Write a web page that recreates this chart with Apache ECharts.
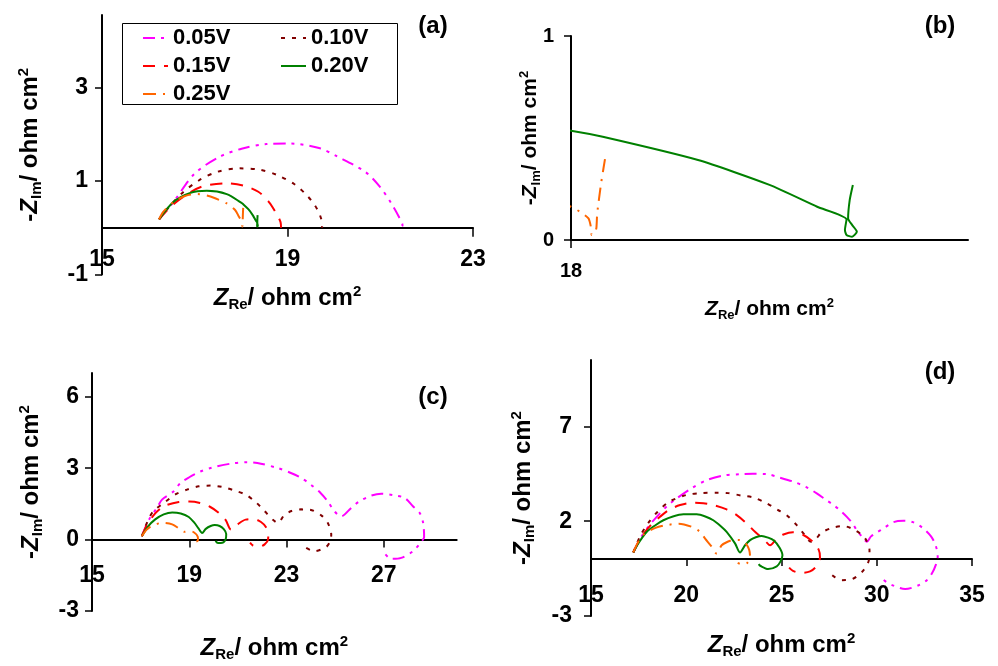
<!DOCTYPE html>
<html>
<head>
<meta charset="utf-8">
<script src="https://cdn.jsdelivr.net/npm/echarts@6/dist/echarts.min.js"></script>
<style>
  html, body { margin: 0; padding: 0; background: #fff; }
  #chart { width: 998px; height: 666px; }
</style>
</head>
<body>
<div id="chart"></div>
<script>
const FONT = 'Liberation Sans, Arial, Helvetica, sans-serif';

// series names, colours, dash patterns
const names = ['0.05V', '0.10V', '0.15V', '0.20V', '0.25V'];
const colors = ['#ff00ff', '#800000', '#ff0000', '#008000', '#ff6600'];
const dashes = [[12, 6, 3, 6, 3, 6], [4, 7], [12, 9], 'solid', [13, 7, 2, 7]];

// tick values of each panel
const xTicksA = [15, 19, 23];
const yTicksA = [-1, 1, 3];
const xTicksB = [18];
const yTicksB = [0, 1];
const xTicksC = [15, 19, 23, 27];
const yTicksC = [-3, 0, 3, 6];
const xTicksD = [15, 20, 25, 30, 35];
const yTicksD = [-3, 2, 7];

// panel (a), [Z_Re, -Z_Im]; (b) is a zoom of the 0.20V / 0.25V ends
const a005 = [[16.23, 0.18], [16.54, 0.55], [17.0, 1.16], [17.54, 1.52], [18.01, 1.69], [18.55, 1.79], [19.05, 1.8], [19.7, 1.7], [20.06, 1.53], [20.67, 1.2], [20.99, 0.88], [21.24, 0.52], [21.41, 0.22], [21.48, 0.05], [21.44, 0.0]];
const a010 = [[16.23, 0.18], [16.45, 0.45], [16.75, 0.76], [17.1, 1.02], [17.5, 1.2], [17.97, 1.27], [18.4, 1.24], [18.77, 1.13], [19.15, 0.93], [19.41, 0.7], [19.59, 0.48], [19.7, 0.27], [19.75, 0.05], [19.74, 0.0]];
const a015 = [[16.23, 0.18], [16.45, 0.42], [16.75, 0.66], [17.15, 0.88], [17.69, 0.95], [18.05, 0.9], [18.37, 0.77], [18.6, 0.55], [18.75, 0.32], [18.85, 0.12], [18.86, 0.0]];
const a020 = [[16.23, 0.18], [16.54, 0.55], [16.89, 0.74], [17.26, 0.79], [17.69, 0.72], [18.0, 0.536], [18.04, 0.506], [18.16, 0.392], [18.25, 0.27], [18.31, 0.163], [18.347, 0.101], [18.345, 0.049], [18.347, 0.025], [18.354, 0.016], [18.36, 0.041], [18.354, 0.074], [18.349, 0.106], [18.351, 0.196], [18.355, 0.27]];
const a025 = [[16.23, 0.18], [16.32, 0.34], [16.54, 0.55], [16.79, 0.68], [17.04, 0.72], [17.26, 0.69], [17.44, 0.63], [17.69, 0.52], [17.87, 0.38], [17.95, 0.24], [18.0, 0.163], [18.011, 0.139], [18.022, 0.106], [18.025, 0.065], [18.026, 0.025], [18.03, 0.035], [18.032, 0.06], [18.033, 0.13], [18.038, 0.28], [18.044, 0.425]];

// panel (c)
const c005 = [[17.05, 0.14], [17.35, 0.85], [17.67, 1.33], [17.88, 1.68], [18.36, 2.03], [18.64, 2.38], [19.0, 2.62], [19.46, 2.86], [19.88, 3.01], [20.7, 3.19], [21.39, 3.25], [21.8, 3.22], [22.63, 3.01], [23.18, 2.8], [23.6, 2.59], [24.0, 2.31], [24.4, 1.96], [24.7, 1.6], [24.97, 1.19], [25.25, 0.98], [25.66, 1.33], [26.0, 1.61], [26.49, 1.85], [26.9, 1.93], [27.38, 1.87], [27.86, 1.75], [28.2, 1.4], [28.48, 1.12], [28.62, 0.7], [28.66, 0.1], [28.55, -0.08], [28.2, -0.49], [27.72, -0.77], [27.31, -0.81], [26.97, -0.49]];
const c010 = [[17.05, 0.14], [17.3, 0.8], [17.53, 1.2], [17.97, 1.55], [18.43, 1.9], [18.91, 2.1], [19.39, 2.24], [19.88, 2.27], [20.36, 2.21], [20.84, 2.07], [21.32, 1.89], [21.74, 1.57], [22.08, 1.22], [22.43, 0.84], [22.65, 0.7], [22.9, 1.02], [23.2, 1.2], [23.6, 1.27], [23.95, 1.26], [24.43, 1.02], [24.7, 0.7], [24.84, 0.2], [24.78, -0.1], [24.63, -0.31], [24.15, -0.49], [23.73, -0.3]];
const c015 = [[17.05, 0.14], [17.25, 0.6], [17.6, 1.1], [17.95, 1.4], [18.57, 1.58], [19.0, 1.6], [19.44, 1.54], [19.85, 1.38], [20.22, 1.12], [20.5, 0.82], [20.72, 0.42], [20.98, 0.63], [21.32, 0.84], [21.67, 0.86], [21.95, 0.74], [22.15, 0.53], [22.25, 0.25], [22.24, 0.0], [22.1, -0.2], [21.9, -0.29], [21.62, -0.25], [21.5, -0.13]];
const c020 = [[17.05, 0.14], [17.3, 0.55], [17.6, 0.85], [17.95, 1.06], [18.3, 1.14], [18.65, 1.1], [18.98, 0.95], [19.2, 0.72], [19.38, 0.47], [19.53, 0.28], [19.68, 0.45], [19.88, 0.57], [20.05, 0.61], [20.25, 0.57], [20.42, 0.44], [20.52, 0.24], [20.5, 0.02], [20.36, -0.13], [20.18, -0.14], [20.08, -0.05]];
const c025 = [[17.05, 0.14], [17.25, 0.42], [17.5, 0.6], [17.9, 0.7], [18.3, 0.64], [18.6, 0.45], [18.8, 0.33], [19.0, 0.36], [19.2, 0.3], [19.35, 0.12], [19.36, -0.02], [19.28, -0.08], [19.15, -0.07]];

// panel (d)
const d005 = [[17.22, 0.35], [17.6, 1.1], [18.0, 1.7], [18.45, 2.23], [19.0, 2.8], [19.5, 3.2], [20.3, 3.75], [21.08, 4.17], [21.9, 4.4], [22.83, 4.48], [23.5, 4.5], [24.23, 4.48], [24.9, 4.3], [25.63, 4.08], [26.3, 3.8], [26.85, 3.47], [27.3, 3.15], [27.73, 2.85], [28.1, 2.55], [28.43, 2.23], [28.75, 1.85], [28.95, 1.53], [29.3, 1.09], [29.48, 0.91], [29.7, 1.2], [30.0, 1.4], [30.4, 1.65], [30.88, 1.95], [31.4, 2.02], [31.9, 1.95], [32.4, 1.65], [32.85, 1.2], [33.1, 0.7], [33.2, 0.12], [33.1, -0.3], [32.9, -0.75], [32.63, -1.11], [32.2, -1.38], [31.49, -1.58], [30.88, -1.4], [30.5, -1.2], [30.3, -1.05]];
const d010 = [[17.22, 0.35], [17.6, 1.25], [18.0, 1.9], [18.5, 2.5], [19.1, 3.02], [19.99, 3.38], [20.8, 3.48], [21.6, 3.5], [22.2, 3.48], [22.9, 3.35], [23.52, 3.25], [24.22, 2.94], [24.8, 2.6], [25.27, 2.32], [25.8, 1.79], [26.2, 1.3], [26.55, 0.91], [26.8, 1.05], [27.1, 1.4], [27.73, 1.67], [28.25, 1.74], [28.9, 1.5], [29.39, 1.09], [29.62, 0.47], [29.56, -0.15], [29.22, -0.68], [28.69, -1.06], [28.17, -1.11], [27.8, -0.95], [27.55, -0.76]];
const d015 = [[17.22, 0.35], [17.6, 1.1], [18.1, 1.75], [18.62, 2.23], [19.1, 2.6], [19.68, 2.85], [20.29, 2.97], [20.9, 2.95], [21.42, 2.85], [22.12, 2.62], [22.65, 2.32], [23.17, 1.88], [23.61, 1.44], [23.95, 1.15], [24.2, 0.9], [24.4, 0.73], [24.75, 1.09], [25.1, 1.3], [25.6, 1.42], [26.1, 1.3], [26.6, 0.95], [26.95, 0.5], [27.02, 0.1], [26.85, -0.35], [26.5, -0.65], [26.0, -0.73], [25.6, -0.62], [25.4, -0.45]];
const d020 = [[17.22, 0.35], [17.5, 0.85], [17.93, 1.44], [18.4, 1.8], [18.8, 2.05], [19.3, 2.25], [19.85, 2.36], [20.55, 2.36], [21.0, 2.25], [21.42, 2.05], [21.8, 1.75], [22.12, 1.44], [22.56, 0.83], [22.82, 0.35], [23.1, 0.75], [23.35, 1.0], [23.65, 1.15], [23.96, 1.22], [24.3, 1.13], [24.6, 0.98], [24.9, 0.6], [25.05, 0.2], [24.95, -0.12], [24.75, -0.38], [24.3, -0.52], [23.88, -0.35], [23.8, -0.27]];
const d025 = [[17.22, 0.35], [17.45, 0.85], [17.77, 1.3], [18.38, 1.65], [18.97, 1.79], [19.6, 1.87], [20.29, 1.7], [20.72, 1.44], [20.99, 1.08], [21.3, 0.7], [21.6, 0.29], [21.86, 0.73], [22.2, 0.93], [22.5, 1.01], [22.83, 1.0], [23.1, 0.85], [23.3, 0.5], [23.35, 0.1], [23.2, -0.2], [22.95, -0.28], [22.7, -0.2]];

const panelData = [
  [a005, a010, a015, a020, a025],
  [null, null, null, a020, a025],
  [c005, c010, c015, c020, c025],
  [d005, d010, d015, d020, d025]
];

const chart = echarts.init(document.getElementById('chart'));

function nameStyle(size, lh, pad) {
  const s = Math.round(size * 0.62);
  const base = { fontFamily: FONT, fontWeight: 'bold', color: '#000' };
  return {
    fontFamily: FONT,
    color: '#000',
    padding: pad || 0,
    rich: {
      t: Object.assign({ fontSize: size, lineHeight: lh }, base),
      z: Object.assign({ fontSize: size, lineHeight: lh, fontStyle: 'italic' }, base),
      sub: Object.assign({ fontSize: s, verticalAlign: 'bottom' }, base),
      sup: Object.assign({ fontSize: s, verticalAlign: 'top' }, base)
    }
  };
}

function makeAxis(opt) {
  return {
    type: 'value',
    gridIndex: opt.grid,
    min: opt.min,
    max: opt.max,
    position: opt.y ? 'left' : 'bottom',
    name: opt.y ? '{t|-}{z|Z}{sub|Im}{t|/ ohm cm}{sup|2}' : '{z|Z}{sub|Re}{t|/ ohm cm}{sup|2}',
    nameLocation: 'middle',
    nameGap: opt.nameGap,
    nameMoveOverlap: false,
    nameTextStyle: nameStyle(opt.nameSize, opt.lh, opt.namePad),
    axisLine: { onZero: !opt.y, lineStyle: { color: '#000', width: 2 } },
    axisTick: { length: opt.tickLen || 7, customValues: opt.ticks, lineStyle: { color: '#000', width: 1.5 } },
    axisLabel: {
      customValues: opt.ticks,
      color: '#000',
      fontFamily: FONT,
      fontWeight: 'bold',
      fontSize: opt.labelSize,
      margin: opt.margin
    },
    splitLine: { show: false }
  };
}

// x labels and names are laid out from the grid bottom, not from the zero line
const xAxes = [
  makeAxis({ grid: 0, min: 15, max: 23, ticks: xTicksA, nameGap: 10, nameSize: 24, lh: 28, labelSize: 23, margin: -26, tickLen: 9 }),
  makeAxis({ grid: 1, min: 18, max: 18.5, ticks: xTicksB, nameGap: 57, nameSize: 21, lh: 25, labelSize: 20, margin: 21, tickLen: 8 }),
  makeAxis({ grid: 2, min: 15, max: 30, ticks: xTicksC, nameGap: 23, nameSize: 24, lh: 28, labelSize: 23, margin: -47, tickLen: 8 }),
  makeAxis({ grid: 3, min: 15, max: 35, ticks: xTicksD, nameGap: 15, nameSize: 24, lh: 28, labelSize: 23, margin: -32, tickLen: 7 })
];
const yAxes = [
  makeAxis({ y: true, grid: 0, min: -1, max: 4.55, ticks: yTicksA, nameGap: 58, nameSize: 24, lh: 28, labelSize: 23, margin: 14 }),
  makeAxis({ y: true, grid: 1, min: 0, max: 1, ticks: yTicksB, nameGap: 28, nameSize: 21, lh: 25, labelSize: 20, margin: 17 }),
  makeAxis({ y: true, grid: 2, min: -3, max: 7, ticks: yTicksC, nameGap: 47, nameSize: 24, lh: 28, labelSize: 23, margin: 13, namePad: [0, 0, 0, 20] }),
  makeAxis({ y: true, grid: 3, min: -3, max: 10.5, ticks: yTicksD, nameGap: 54, nameSize: 24, lh: 28, labelSize: 23, margin: 19 })
];

const series = [];
panelData.forEach((list, g) => {
  list.forEach((data, i) => {
    if (!data) return;
    series.push({
      name: names[i],
      type: 'line',
      xAxisIndex: g,
      yAxisIndex: g,
      data: data,
      symbol: 'none',
      showSymbol: false,
      smooth: g === 1 ? 0.2 : 0.3,
      clip: true,
      lineStyle: { color: colors[i], width: 2, type: dashes[i] },
      itemStyle: { color: colors[i] }
    });
  });
});

const legendText = { fontFamily: FONT, fontWeight: 'bold', fontSize: 22, color: '#000', lineHeight: 21 };
const legendBase = {
  orient: 'vertical', top: 27, padding: 0, itemWidth: 25, itemHeight: 14, itemGap: 6,
  itemStyle: { opacity: 0 }, textStyle: legendText
};

function panelLabel(text, x, y) {
  return {
    type: 'text',
    x: x,
    y: y,
    style: { text: text, font: 'bold 24px ' + FONT, fill: '#000', align: 'center', verticalAlign: 'middle' }
  };
}

const option = {
  animation: false,
  backgroundColor: '#fff',
  grid: [
    { left: 102, top: 15, width: 371, height: 259.5, outerBoundsMode: 'none' },
    { left: 571, top: 36, width: 397, height: 204, outerBoundsMode: 'none' },
    { left: 92, top: 373, width: 364.7, height: 238, outerBoundsMode: 'none' },
    { left: 591, top: 360, width: 381, height: 256, outerBoundsMode: 'none' }
  ],
  xAxis: xAxes,
  yAxis: yAxes,
  legend: [
    Object.assign({ data: ['0.05V', '0.15V', '0.25V'], left: 142 }, legendBase),
    Object.assign({ data: ['0.10V', '0.20V'], left: 280 }, legendBase)
  ],
  graphic: [
    { type: 'rect', shape: { x: 122.5, y: 23.5, width: 275, height: 81 },
      style: { fill: 'none', stroke: '#000', lineWidth: 1 } },
    panelLabel('(a)', 433, 26),
    panelLabel('(b)', 940, 26),
    panelLabel('(c)', 433, 397),
    panelLabel('(d)', 940, 372)
  ],
  series: series
};

chart.setOption(option);
</script>
</body>
</html>
